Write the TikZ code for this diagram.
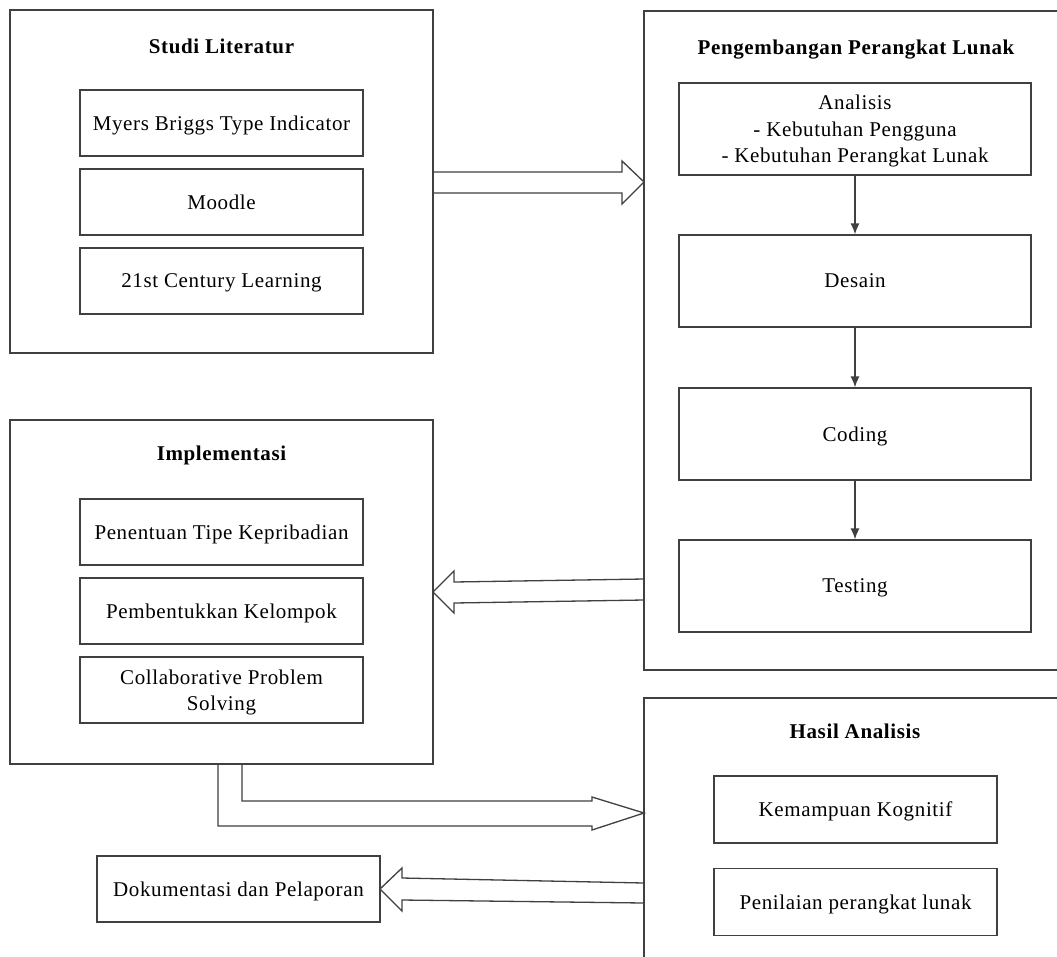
\documentclass[tikz,border=0pt]{standalone}
\usepackage{fontspec}
\setmainfont{Liberation Serif}[LetterSpace=3]
\usetikzlibrary{calc,arrows.meta}
\definecolor{lc}{HTML}{404040}
\begin{document}
\begin{tikzpicture}[x=1pt,y=-1pt,
  outer/.style={draw=lc, line width=1.3pt, inner sep=0pt},
  inbox/.style={draw=lc, line width=1.3pt, inner sep=0pt, minimum width=283, minimum height=66, align=center, text depth=0pt, font=\fontsize{21}{26}\selectfont},
  bigbox/.style={draw=lc, line width=1.3pt, inner sep=0pt, minimum width=352, minimum height=92, align=center, text depth=0pt, font=\fontsize{21}{26.5}\selectfont},
  title/.style={font=\bfseries\fontsize{21}{24}\selectfont, inner sep=0pt},
  barrow/.style={draw=lc, line width=1.3pt, fill=white, line join=miter},
  flow/.style={draw=lc, line width=1.3pt, -{Latex[length=11pt,width=9pt]}}]
\clip (0,0) rectangle (1057,956);
\fill[white] (0,0) rectangle (1057,956);
% Block arrows (drawn first so box edges stay on top)
\draw[barrow] (433,172) -- (622,172) -- (622,161) -- (644,182) -- (622,204) -- (622,193) -- (433,193);
\draw[barrow] (644,579) -- (454,582) -- (454,571) -- (433,592) -- (454,613) -- (454,603) -- (644,600);
\draw[barrow] (242,764) -- (242,801) -- (592,801) -- (592,797) -- (644,813) -- (592,830) -- (592,826) -- (218,826) -- (218,764);
\draw[barrow] (644,883) -- (402,878) -- (402,868) -- (380,889) -- (402,911) -- (402,900) -- (644,903);
% Studi Literatur
\node[outer, minimum width=423, minimum height=343] (studi) at (221.5,181.5) {};
\node[title] (studiT) at (221.5,46) {Studi Literatur};
\node[inbox] (myers) at (221.5,123) {Myers Briggs Type Indicator};
\node[inbox] (moodle) at (221.5,202) {Moodle};
\node[inbox] (st21) at (221.5,281) {21st Century Learning};
% Pengembangan
\node[outer, minimum width=421, minimum height=659] (peng) at (854.5,340.5) {};
\node[title] (pengT) at (856,50) {Pengembangan Perangkat Lunak};
\node[bigbox] (analisis) at (855,129) {Analisis\\- Kebutuhan Pengguna\\- Kebutuhan Perangkat Lunak};
\node[bigbox] (desain) at (855,281) {Desain};
\node[bigbox] (coding) at (855,434) {Coding};
\node[bigbox] (testing) at (855,586) {Testing};
\draw[flow] (analisis) -- (desain);
\draw[flow] (desain) -- (coding);
\draw[flow] (coding) -- (testing);
% Implementasi
\node[outer, minimum width=423, minimum height=344] (impl) at (221.5,592) {};
\node[title] (implT) at (221.5,455) {Implementasi};
\node[inbox] (pen) at (221.5,532) {Penentuan Tipe Kepribadian};
\node[inbox] (pemb) at (221.5,611) {Pembentukkan Kelompok};
\node[inbox] (collab) at (221.5,690) {Collaborative Problem\\Solving};
% Hasil Analisis
\node[outer, minimum width=421, minimum height=272] (hasil) at (854.5,834) {};
\node[title] (hasilT) at (855,731) {Hasil Analisis};
\node[inbox, minimum height=67] (kemampuan) at (855.5,809.5) {Kemampuan Kognitif};
\node[inbox, minimum height=67] (penilaian) at (855.5,902) {Penilaian perangkat lunak};
% Dokumentasi
\node[inbox] (dok) at (238.5,889) {Dokumentasi dan Pelaporan};
\end{tikzpicture}
\end{document}
